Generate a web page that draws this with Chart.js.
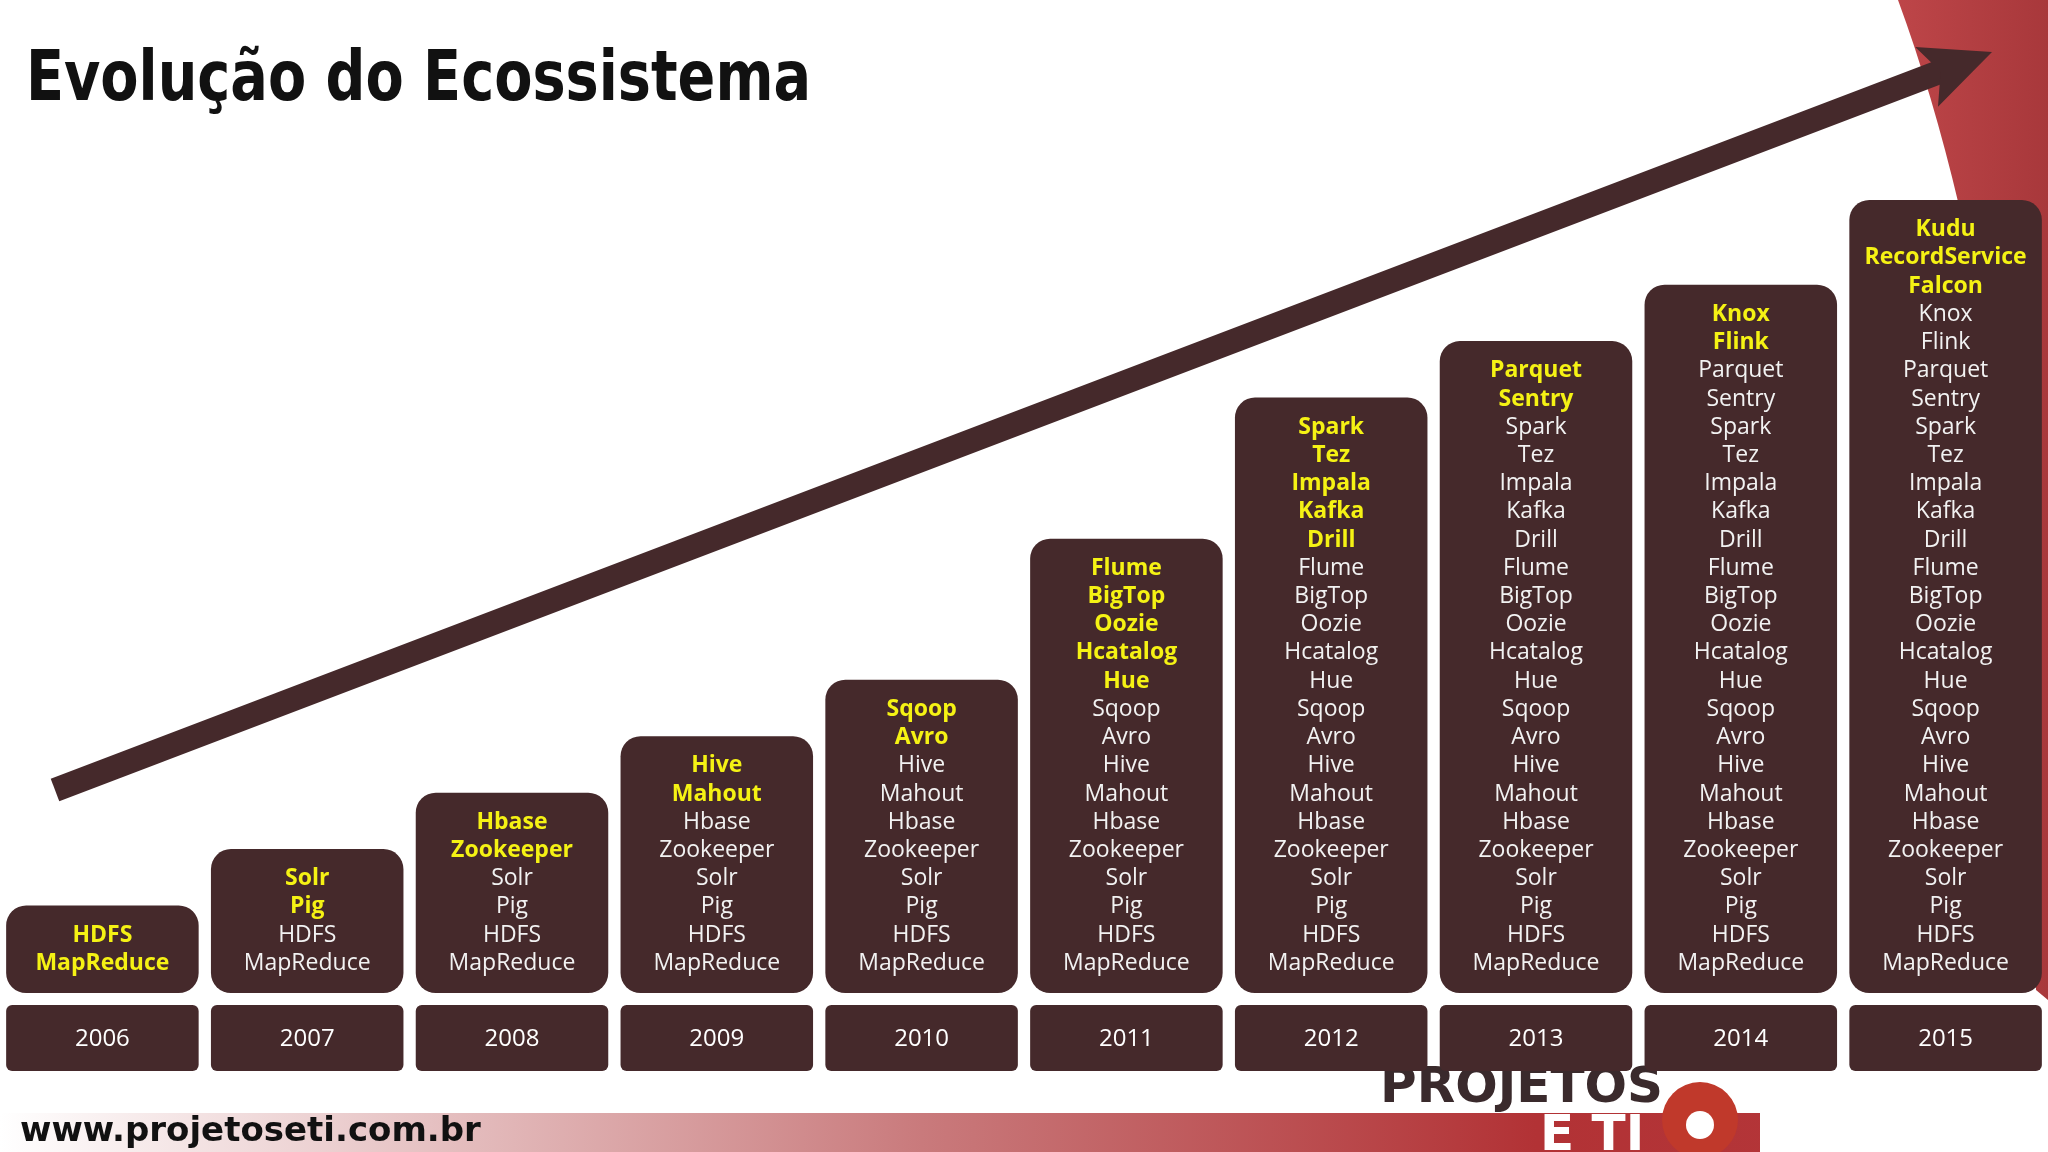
<!DOCTYPE html>
<html>
<head>
<meta charset="UTF-8" />
<title>Evolução do Ecossistema</title>
<script src="https://cdn.jsdelivr.net/npm/chart.js"></script>
<style>
  *{box-sizing:border-box}
  body{margin:0;background:#fff;overflow:hidden;}
  #wrap{position:relative;width:2048px;height:1152px;}
</style>
</head>
<body>
<div id="wrap"><canvas id="chart" width="2048" height="1152"></canvas></div>
<script>
const years = ["2006","2007","2008","2009","2010","2011","2012","2013","2014","2015"];
const newTools = [
  ["HDFS","MapReduce"],
  ["Solr","Pig"],
  ["Hbase","Zookeeper"],
  ["Hive","Mahout"],
  ["Sqoop","Avro"],
  ["Flume","BigTop","Oozie","Hcatalog","Hue"],
  ["Spark","Tez","Impala","Kafka","Drill"],
  ["Parquet","Sentry"],
  ["Knox","Flink"],
  ["Kudu","RecordService","Falcon"]
];
// cumulative list per year: new tools on top, older below
const stacks = [];
let acc = [];
newTools.forEach(n => { acc = n.concat(acc); stacks.push({ fresh: n.length, items: acc.slice() }); });
const toolCounts = stacks.map(s => s.items.length);

const BROWN = "#45292b";
const FONT = "'Open Sans', 'DejaVu Sans', sans-serif";

const decor = {
  id: "decor",
  beforeDraw(chart){
    const c = chart.ctx, W = chart.width;
    c.save();
    // red band top right
    const g = c.createLinearGradient(1880, 0, 2048, 0);
    g.addColorStop(0, "#c0474a"); g.addColorStop(1, "#a8383b");
    c.fillStyle = g;
    c.beginPath();
    c.moveTo(1898, 0); c.lineTo(W, 0); c.lineTo(W, 1000); c.lineTo(2036, 990);
    c.bezierCurveTo(2040, 600, 1990, 250, 1898, 0);
    c.fill();
    // footer gradient
    const f = c.createLinearGradient(0, 0, W, 0);
    f.addColorStop(0, "#ffffff"); f.addColorStop(0.45, "#c97a7c"); f.addColorStop(0.75, "#b23235"); f.addColorStop(1, "#b5383b");
    c.fillStyle = f;
    c.fillRect(0, 1113, W, 39);
    c.fillStyle = "#fff";
    c.fillRect(1760, 1080, 288, 72);
    // logo text
    c.fillStyle = "#3a2a2c";
    c.font = "bold 50px 'DejaVu Sans', sans-serif";
    c.textAlign = "left"; c.textBaseline = "alphabetic";
    c.fillText("PROJETOS", 1380, 1102);
    c.fillStyle = "#fff";
    c.fillText("E TI", 1540, 1150);
    c.fillStyle = "#c0392b";
    c.beginPath(); c.arc(1700, 1120, 38, 0, Math.PI * 2); c.fill();
    c.fillStyle = "#fff";
    c.beginPath(); c.arc(1700, 1125, 14, 0, Math.PI * 2); c.fill();
    // site
    c.fillStyle = "#111";
    c.font = "bold 34px 'DejaVu Sans', sans-serif";
    c.fillText("www.projetoseti.com.br", 20, 1141);
    // title, squeezed to the reference width
    c.font = "bold 70px 'DejaVu Sans', sans-serif";
    const t = "Evolução do Ecossistema";
    const sx = 785 / c.measureText(t).width;
    c.save(); c.translate(26, 100); c.scale(sx, 1); c.fillText(t, 0, 0); c.restore();
    // arrow
    const x0 = 55, y0 = 790, x1 = 1992, y1 = 52;
    const ang = Math.atan2(y1 - y0, x1 - x0);
    c.strokeStyle = BROWN; c.lineWidth = 24; c.lineCap = "butt";
    c.beginPath(); c.moveTo(x0, y0);
    c.lineTo(x1 - 45 * Math.cos(ang), y1 - 45 * Math.sin(ang)); c.stroke();
    c.fillStyle = BROWN;
    c.translate(x1, y1); c.rotate(ang);
    c.beginPath(); c.moveTo(0, 0); c.lineTo(-70, -32); c.lineTo(-55, 0); c.lineTo(-70, 32); c.closePath(); c.fill();
    c.restore();
  },
  afterDatasetsDraw(chart){
    const c = chart.ctx, ys = chart.scales.y;
    const meta = chart.getDatasetMeta(0);
    c.save();
    c.textAlign = "center"; c.textBaseline = "middle";
    meta.data.forEach((bar, i) => {
      const s = stacks[i], n = s.items.length;
      s.items.forEach((name, k) => {
        const fresh = k < s.fresh;
        c.fillStyle = fresh ? "#f5f214" : "#f2f2f2";
        c.font = (fresh ? "bold " : "") + "23px " + FONT;
        c.fillText(name, bar.x, ys.getPixelForValue(n - k - 0.5));
      });
      // year boxes
      const w = bar.width;
      c.fillStyle = BROWN;
      c.beginPath(); c.roundRect(bar.x - w / 2, 1005, w, 66, 6); c.fill();
      c.fillStyle = "#fff";
      c.font = "24px " + FONT;
      c.fillText(years[i], bar.x, 1039);
    });
    c.restore();
  }
};

new Chart(document.getElementById("chart"), {
  type: "bar",
  data: {
    labels: years,
    datasets: [{
      data: toolCounts.map(n => [-0.55, n + 0.55]),
      backgroundColor: BROWN,
      borderRadius: 20,
      borderSkipped: false,
      barPercentage: 0.94,
      categoryPercentage: 1
    }]
  },
  options: {
    responsive: false,
    animation: false,
    layout: { padding: { left: 0, right: 0, top: 200, bottom: 159 } },
    plugins: { legend: { display: false }, tooltip: { enabled: false } },
    scales: {
      x: { display: false },
      y: { display: false, min: -0.55, max: 27.55 }
    }
  },
  plugins: [decor]
});
</script>
</body>
</html>
